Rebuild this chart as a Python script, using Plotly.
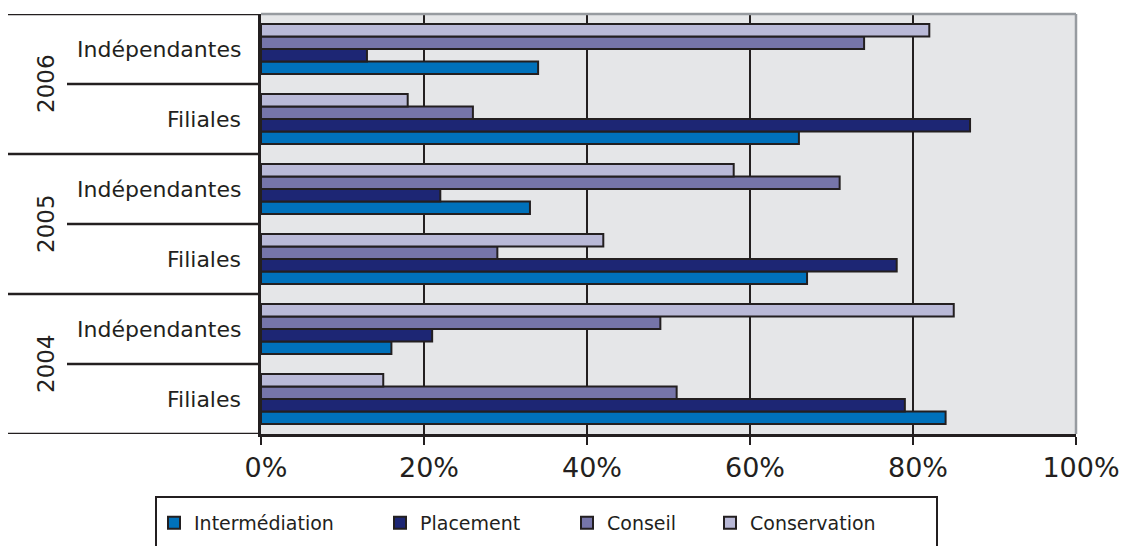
import plotly.graph_objects as go

# ---- data ----
years = ["2004", "2005", "2006"]
segments = ["Filiales", "Indépendantes"]
categories = [f"{y} {s}" for y in years for s in segments]  # bottom -> top

series_names = ["Intermédiation", "Placement", "Conseil", "Conservation"]
intermediation = [84, 16, 67, 33, 66, 34]
placement = [79, 21, 78, 22, 87, 13]
conseil = [51, 49, 29, 71, 26, 74]
conservation = [15, 85, 42, 58, 18, 82]
series_values = [intermediation, placement, conseil, conservation]

tick_values = [0, 20, 40, 60, 80, 100]
tick_labels = ["0%", "20%", "40%", "60%", "80%", "100%"]

# ---- style ----
colors = ["#0071bb", "#1d2674", "#7675a9", "#b9b9d7"]
dark = "#231f20"
font = "DejaVu Sans"

W, H = 1128, 546
L, R, T, B = 261, 52, 14, 112
pw = W - L - R
ph = H - T - B


def px_to_paper_x(px):
    return (px - L) / pw


def px_to_paper_y(py):
    return (H - B - py) / ph


fig = go.Figure()
legend_ids = ["legend", "legend2", "legend3", "legend4"]
for name, vals, col, lg in zip(series_names, series_values, colors, legend_ids):
    fig.add_trace(go.Bar(
        y=categories, x=vals, name=name, orientation="h",
        marker=dict(color=col, line=dict(color=dark, width=2)),
        legend=lg, showlegend=True,
    ))

# legends positioned individually
legend_px = [154, 380, 567, 710]
layout_legends = {}
for lg, lx in zip(legend_ids, legend_px):
    layout_legends[lg] = dict(
        x=px_to_paper_x(lx), xanchor="left",
        y=px_to_paper_y(523), yanchor="middle",
        orientation="h", bgcolor="rgba(0,0,0,0)",
        font=dict(family=font, size=19, color=dark),
        traceorder="normal",
    )

shapes = []
# category separators
n = len(categories)
for i in range(n + 1):
    yv = i - 0.5
    full = (i % 2 == 0)
    shapes.append(dict(
        type="line", xref="paper", yref="y",
        x0=px_to_paper_x(8 if full else 67), x1=0, y0=yv, y1=yv,
        line=dict(color=dark, width=2.5),
    ))
# top and right border (gray)
shapes.append(dict(type="line", xref="paper", yref="paper", x0=0, x1=1, y0=1, y1=1,
                   line=dict(color="#979ba0", width=2.5)))
shapes.append(dict(type="line", xref="paper", yref="paper", x0=1, x1=1, y0=0, y1=1,
                   line=dict(color="#979ba0", width=2.5)))
# legend frame
shapes.append(dict(type="rect", xref="paper", yref="paper",
                   x0=px_to_paper_x(156), x1=px_to_paper_x(937),
                   y0=px_to_paper_y(497), y1=px_to_paper_y(620),
                   line=dict(color=dark, width=2), fillcolor="rgba(0,0,0,0)"))

annotations = []
for c in categories:
    seg = c.split(" ", 1)[1]
    annotations.append(dict(
        x=0, xref="paper", xanchor="right", xshift=-18,
        y=c, yref="y", yanchor="middle", text=seg, showarrow=False,
        font=dict(family=font, size=22, color=dark),
    ))
for j, yr in enumerate(years):
    annotations.append(dict(
        x=px_to_paper_x(46), xref="paper", xanchor="center",
        y=2 * j + 0.5, yref="y", yanchor="middle", text=yr, showarrow=False,
        textangle=-90,
        font=dict(family=font, size=23, color=dark),
    ))

fig.update_layout(
    width=W, height=H,
    margin=dict(l=L, r=R, t=T, b=B, autoexpand=False),
    showlegend=True,
    paper_bgcolor="white", plot_bgcolor="#e5e6e8",
    barmode="group", bargap=0.286, bargroupgap=0,
    shapes=shapes, annotations=annotations,
    **layout_legends,
    xaxis=dict(
        range=[0, 100], tickvals=tick_values, ticktext=tick_labels,
        showgrid=True, gridcolor=dark, gridwidth=2,
        zeroline=False, showline=True, linecolor=dark, linewidth=2.5,
        ticks="outside", ticklen=8, tickwidth=2, tickcolor=dark,
        tickfont=dict(family=font, size=27, color=dark),
        ticklabelshift=5, ticklabelstandoff=0,
        fixedrange=True,
    ),
    yaxis=dict(
        range=[-0.5, n - 0.5], showticklabels=False, showgrid=False,
        zeroline=False, showline=True, linecolor=dark, linewidth=2.5,
        ticks="", fixedrange=True,
    ),
)

fig.write_html("out.html")
